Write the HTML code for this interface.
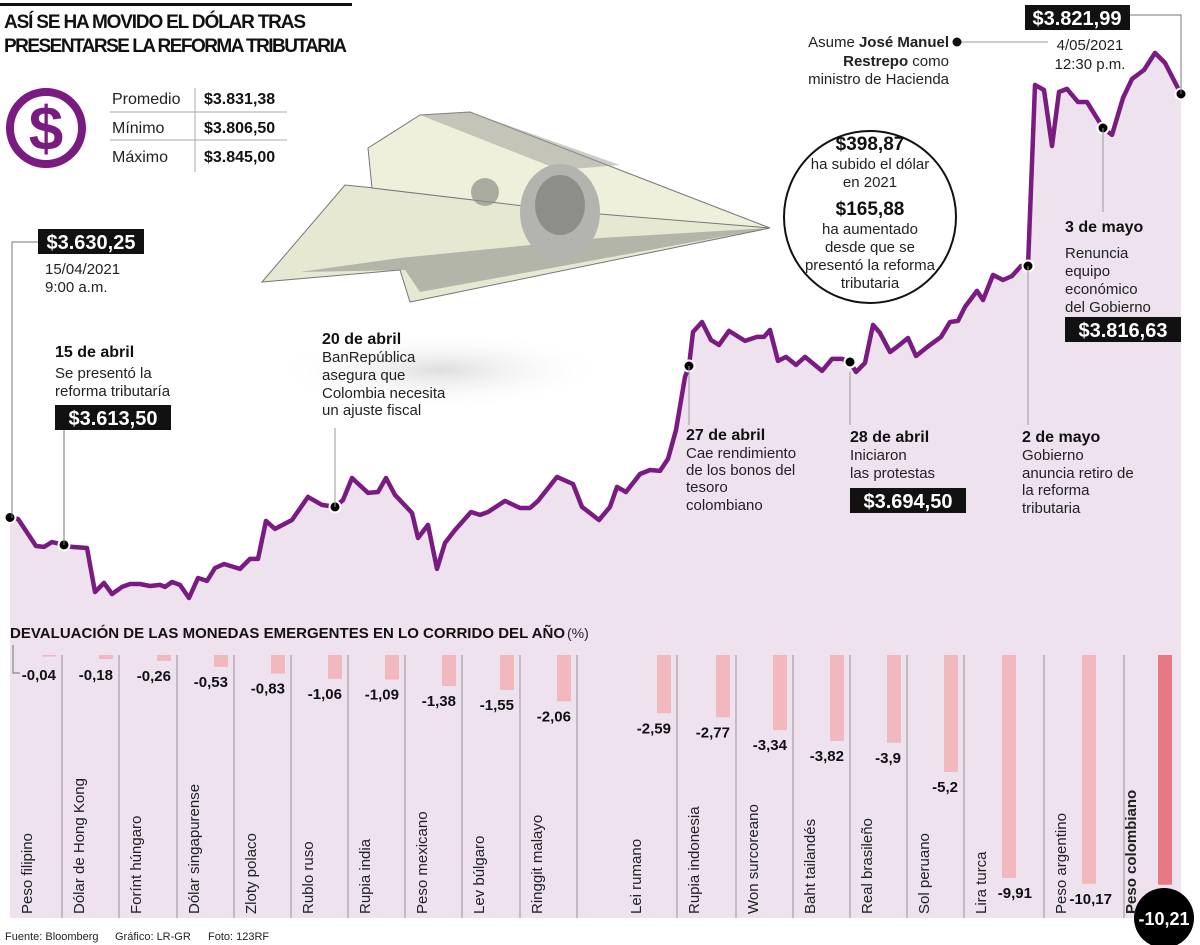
<!DOCTYPE html>
<html><head><meta charset="utf-8"><style>
html,body{margin:0;padding:0;background:#fff}
svg{display:block;font-family:"Liberation Sans",sans-serif}
.r{font-size:15px;fill:#222}
.b{font-size:16px;font-weight:bold;fill:#111}
</style></head><body>
<svg id="s" width="1200" height="945" viewBox="0 0 1200 945" xmlns="http://www.w3.org/2000/svg">
<defs>
<radialGradient id="sh" cx="50%" cy="50%" r="50%"><stop offset="0" stop-color="#d6d6d6" stop-opacity="0.8"/><stop offset="1" stop-color="#fff" stop-opacity="0"/></radialGradient>
</defs>
<g id="chart"></g>
<g id="bars"></g>

<!-- header -->
<rect x="0" y="3" width="352" height="3" fill="#111"/>
<text x="4" y="28" font-size="19" font-weight="bold" fill="#111" textLength="302">ASÍ SE HA MOVIDO EL DÓLAR TRAS</text>
<text x="4" y="52" font-size="19" font-weight="bold" fill="#111" textLength="343">PRESENTARSE LA REFORMA TRIBUTARIA</text>

<g>
<circle cx="46" cy="128" r="36" fill="none" stroke="#7a1b82" stroke-width="8"/>
<text x="46" y="150" text-anchor="middle" font-size="62" font-weight="bold" fill="#7a1b82">$</text>
</g>
<g>
<line x1="195" y1="88" x2="195" y2="172" stroke="#aaa"/>
<line x1="110" y1="112" x2="287" y2="112" stroke="#aaa"/>
<line x1="110" y1="140" x2="287" y2="140" stroke="#aaa"/>
<text x="112" y="104" font-size="16" fill="#222">Promedio</text>
<text x="112" y="133" font-size="16" fill="#222">Mínimo</text>
<text x="112" y="162" font-size="16" fill="#222">Máximo</text>
<text x="204" y="104" font-size="16" font-weight="bold" fill="#111">$3.831,38</text>
<text x="204" y="133" font-size="16" font-weight="bold" fill="#111">$3.806,50</text>
<text x="204" y="162" font-size="16" font-weight="bold" fill="#111">$3.845,00</text>
</g>

<!-- plane -->
<g>
<ellipse cx="440" cy="370" rx="170" ry="40" fill="url(#sh)"/>
<polygon points="262,282 345,185 770,228 410,302 400,270" fill="#e6e8d2" stroke="#777"/>
<polygon points="300,272 400,258 600,238 770,228 420,292 405,270" fill="#8a8a86" opacity="0.55"/>
<polygon points="368,148 420,115 470,112 770,228 575,212 372,188" fill="#eef0dc" stroke="#777"/>
<polygon points="420,115 470,112 620,165 560,170" fill="#9a9a94" opacity="0.5"/>
<ellipse cx="560" cy="212" rx="40" ry="48" fill="#b4b4ae"/>
<ellipse cx="560" cy="205" rx="25" ry="30" fill="#8e8e88"/>
<circle cx="485" cy="192" r="14" fill="#8e8e88" opacity="0.7"/>
</g>

<!-- info circle -->
<g>
<circle cx="870" cy="217" r="86" fill="#fff" stroke="#111" stroke-width="2"/>
<text x="870" y="150" text-anchor="middle" font-size="19" font-weight="bold" fill="#111">$398,87</text>
<text x="870" y="169" text-anchor="middle" class="r">ha subido el dólar</text>
<text x="870" y="187" text-anchor="middle" class="r">en 2021</text>
<text x="870" y="215" text-anchor="middle" font-size="19" font-weight="bold" fill="#111">$165,88</text>
<text x="870" y="234" text-anchor="middle" class="r">ha aumentado</text>
<text x="870" y="252" text-anchor="middle" class="r">desde que se</text>
<text x="870" y="270" text-anchor="middle" class="r">presentó la reforma</text>
<text x="870" y="288" text-anchor="middle" class="r">tributaria</text>
</g>

<!-- annotations -->
<g>
<polyline points="12,518 12,242 38,242" fill="none" stroke="#777"/>
<rect x="38" y="229" width="106" height="25" fill="#111"/>
<text x="91" y="249" text-anchor="middle" font-size="20" font-weight="bold" fill="#fff">$3.630,25</text>
<text x="45" y="274" class="r">15/04/2021</text>
<text x="45" y="292" class="r">9:00 a.m.</text>
</g>
<g>
<line x1="64" y1="430" x2="64" y2="545" stroke="#777"/>
<text x="55" y="357" class="b">15 de abril</text>
<text x="55" y="378" class="r">Se presentó la</text>
<text x="55" y="396" class="r">reforma tributaría</text>
<rect x="55" y="405" width="116" height="25" fill="#111"/>
<text x="113" y="425" text-anchor="middle" font-size="20" font-weight="bold" fill="#fff">$3.613,50</text>
</g>
<g>
<line x1="335" y1="428" x2="335" y2="507" stroke="#999"/>
<text x="322" y="344" class="b">20 de abril</text>
<text x="322" y="362" class="r">BanRepública</text>
<text x="322" y="380" class="r">asegura que</text>
<text x="322" y="398" class="r">Colombia necesita</text>
<text x="322" y="415" class="r">un ajuste fiscal</text>
</g>
<g>
<line x1="689" y1="366" x2="689" y2="425" stroke="#999"/>
<text x="686" y="440" class="b">27 de abril</text>
<text x="686" y="458" class="r">Cae rendimiento</text>
<text x="686" y="475" class="r">de los bonos del</text>
<text x="686" y="492" class="r">tesoro</text>
<text x="686" y="510" class="r">colombiano</text>
</g>
<g>
<line x1="850" y1="372" x2="850" y2="425" stroke="#999"/>
<text x="850" y="442" class="b">28 de abril</text>
<text x="850" y="460" class="r">Iniciaron</text>
<text x="850" y="478" class="r">las protestas</text>
<rect x="850" y="488" width="116" height="25" fill="#111"/>
<text x="908" y="508" text-anchor="middle" font-size="20" font-weight="bold" fill="#fff">$3.694,50</text>
</g>
<g>
<line x1="1028" y1="266" x2="1028" y2="425" stroke="#999"/>
<text x="1022" y="442" class="b">2 de mayo</text>
<text x="1022" y="460" class="r">Gobierno</text>
<text x="1022" y="478" class="r">anuncia retiro de</text>
<text x="1022" y="495" class="r">la reforma</text>
<text x="1022" y="513" class="r">tributaria</text>
</g>
<g>
<line x1="1103" y1="128" x2="1103" y2="212" stroke="#999"/>
<text x="1065" y="232" class="b">3 de mayo</text>
<text x="1065" y="258" class="r">Renuncia</text>
<text x="1065" y="276" class="r">equipo</text>
<text x="1065" y="294" class="r">económico</text>
<text x="1065" y="312" class="r">del Gobierno</text>
<rect x="1065" y="317" width="116" height="25" fill="#111"/>
<text x="1123" y="337" text-anchor="middle" font-size="20" font-weight="bold" fill="#fff">$3.816,63</text>
</g>
<g>
<polyline points="1130,15 1181,15 1181,94" fill="none" stroke="#777"/>
<rect x="1025" y="5" width="105" height="25" fill="#111"/>
<text x="1077" y="25" text-anchor="middle" font-size="20" font-weight="bold" fill="#fff">$3.821,99</text>
<text x="1090" y="50" text-anchor="middle" class="r">4/05/2021</text>
<text x="1090" y="69" text-anchor="middle" class="r">12:30 p.m.</text>
</g>
<g>
<line x1="957" y1="42" x2="1048" y2="42" stroke="#999"/>
<circle cx="957" cy="42" r="4.5" fill="#111"/>
<text x="949" y="47" text-anchor="end" class="r">Asume <tspan font-weight="bold">José Manuel</tspan></text>
<text x="949" y="66" text-anchor="end" class="r"><tspan font-weight="bold">Restrepo</tspan> como</text>
<text x="949" y="84" text-anchor="end" class="r">ministro de Hacienda</text>
</g>

<text x="10" y="638" font-size="15" font-weight="bold" fill="#111" textLength="555">DEVALUACIÓN DE LAS MONEDAS EMERGENTES EN LO CORRIDO DEL AÑO</text>
<text x="567" y="638" font-size="14" fill="#222">(%)</text>

<text x="5" y="940" font-size="11" fill="#222">Fuente: Bloomberg</text>
<text x="115" y="940" font-size="11" fill="#222">Gráfico: LR-GR</text>
<text x="208" y="940" font-size="11" fill="#222">Foto: 123RF</text>
</svg>
<script>
// Line chart data
const timeSteps = [0,8,26,34,42,54,62,77,85,94,102,112,120,130,140,150,155,162,170,179,188,197,205,214,230,240,248,256,265,282,298,312,325,333,342,358,368,376,385,402,408,418,427,435,445,461,470,478,495,510,520,528,547,563,572,589,600,607,616,630,640,650,658,666,675,679,683,692,701,709,719,735,747,754,760,768,776,786,795,812,822,832,840,846,855,863,870,880,887,898,906,920,931,940,948,955,967,973,983,993,1002,1011,1018,1025,1034,1042,1049,1057,1068,1077,1090,1093,1102,1113,1122,1134,1145,1155,1171];
const rates = [3630.25,3629.6,3617.4,3617.0,3619.2,3617.9,3617.0,3616.5,3596.7,3600.8,3595.8,3599.0,3600.3,3600.3,3599.4,3599.9,3599.0,3601.2,3599.9,3594.0,3603.0,3601.7,3607.5,3609.3,3607.1,3611.6,3611.6,3628.7,3625.1,3629.1,3639.5,3635.9,3635.0,3638.1,3648.0,3641.3,3641.7,3648.0,3640.4,3632.3,3621.0,3626.9,3607.1,3618.8,3624.6,3632.7,3631.4,3632.7,3637.7,3634.5,3634.5,3637.7,3648.5,3645.3,3635.0,3629.1,3635.0,3644.0,3641.7,3649.8,3651.6,3651.2,3656.6,3669.6,3693.5,3698.4,3713.7,3718.2,3710.1,3707.9,3714.2,3709.7,3711.5,3711.5,3714.6,3700.7,3702.5,3698.9,3702.5,3696.2,3701.6,3701.6,3700.2,3695.7,3699.8,3716.9,3713.3,3704.7,3707.0,3711.0,3702.9,3707.9,3711.5,3718.2,3718.7,3725.0,3732.2,3728.1,3739.4,3737.1,3738.9,3743.4,3743.4,3824.9,3822.6,3797.4,3821.7,3823.1,3817.2,3817.2,3807.8,3805.5,3802.4,3819.0,3827.6,3831.6,3839.3,3834.8,3820.8];
const markedIdx = [0,5,32,65,82,102,111,118];

// Bar chart data
const currencies = ["Peso filipino","Dólar de Hong Kong","Forínt húngaro","Dólar singapurense","Zloty polaco","Rublo ruso","Rupia india","Peso mexicano","Lev búlgaro","Ringgit malayo","Lei rumano","Rupia indonesia","Won surcoreano","Baht tailandés","Real brasileño","Sol peruano","Lira turca","Peso argentino","Peso colombiano"];
const devaluation = [-0.04,-0.18,-0.26,-0.53,-0.83,-1.06,-1.09,-1.38,-1.55,-2.06,-2.59,-2.77,-3.34,-3.82,-3.9,-5.2,-9.91,-10.17,-10.21];
const valueLabels = ["-0,04","-0,18","-0,26","-0,53","-0,83","-1,06","-1,09","-1,38","-1,55","-2,06","-2,59","-2,77","-3,34","-3,82","-3,9","-5,2","-9,91","-10,17","-10,21"];

// layout (column relative widths, not data)
const colWeights = [52,57,58,57,57,57,57,57,58,57,100,59,57,57,57,57,80,80,58];

const NS = "http://www.w3.org/2000/svg";
function mk(tag, attrs, parent){const e=document.createElementNS(NS,tag);for(const k in attrs)e.setAttribute(k,attrs[k]);parent.appendChild(e);return e;}
const xT = t => 10 + t;
const yV = v => 518 - (v - 3630) / 0.45;

const chart = document.getElementById('chart');
let d = `M${xT(timeSteps[0])},918`;
timeSteps.forEach((t,i)=>{ d += ` L${xT(t)},${yV(rates[i]).toFixed(1)}`; });
d += ` L${xT(timeSteps[timeSteps.length-1])},918 Z`;
const area = mk('path',{d:d,fill:'#ede2ee'},chart);


const pts = timeSteps.map((t,i)=>`${xT(t)},${yV(rates[i]).toFixed(1)}`).join(' ');
const line = mk('polyline',{points:pts,fill:'none',stroke:'#7a1b82','stroke-width':4.5,'stroke-linejoin':'round'},chart);



// Bars
const bars = document.getElementById('bars');
const x0 = 10, x1 = 1182;
const wSum = colWeights.reduce((a,b)=>a+b,0);
const yB = v => 655 - v * 22.5;
let left = x0;
currencies.forEach((c,i)=>{
  const bw = colWeights[i] / wSum * (x1 - x0);
  const right = left + bw;
  if(i>0){
    const sep = mk('line',{x1:left,y1:655,x2:left,y2:918,stroke:'#a8a0a8','stroke-width':1.2},bars);
    
    
  }
  const last = i === currencies.length-1;
  const wide = colWeights[i] === 80;
  const bottom = yB(devaluation[i]);
  const bRight = last ? right - 10 : (wide ? right - 28 : right - 6);
  const r = mk('rect',{x:bRight-14,y:655,width:14,height:Math.max(1.5,bottom-655),fill:last?'#e87883':'#f1b8bd'},bars);
  
  
  let lab;
  if(last){
    const cc = mk('circle',{cx:right-18,cy:918,r:30,fill:'#000'},bars);
    
    
    lab = mk('text',{x:right-18,y:925,'text-anchor':'middle','font-size':18,'font-weight':'bold',fill:'#fff'},bars);
  } else {
    lab = mk('text',{x:bRight+(wide?16:0),y:Math.max(bottom+20,680),'text-anchor':'end','font-size':15,'font-weight':'bold',fill:'#111'},bars);
  }
  lab.textContent = valueLabels[i];
  
  
  const lx = last ? left + 12 : left + 22 + (colWeights[i] === 100 ? 42 : 0);
  const cl = mk('text',{x:0,y:0,transform:`translate(${lx},914) rotate(-90)`,'font-size':15,'font-weight':last?'bold':'normal',fill:'#222'},bars);
  cl.textContent = c;
  
  
  left = right;
});
const lead = mk('polyline',{points:'13,645 13,673 20,673',fill:'none',stroke:'#777'},bars);



// Dots on line
markedIdx.forEach(i=>{
  const c = mk('circle',{cx:xT(timeSteps[i]),cy:yV(rates[i]),r:5.5,fill:'#000',stroke:'#fff','stroke-width':2},chart);
  
  
});
</script>
</body></html>
